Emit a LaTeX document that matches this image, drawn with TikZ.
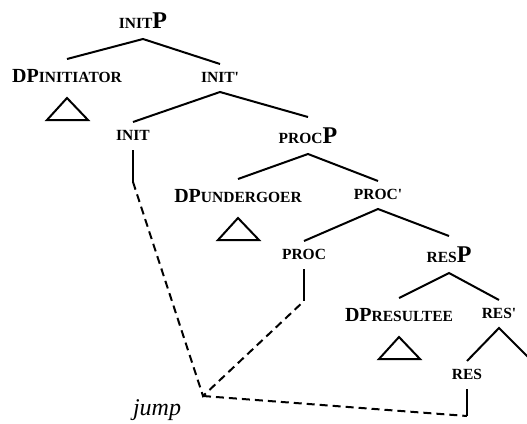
\documentclass[tikz,border=0pt]{standalone}
\usepackage{fontspec}
\setmainfont{Liberation Serif}

\newcommand\capsm[1]{{\fontsize{15.5}{15.5}\selectfont #1}}
\newcommand\phrP{{\fontsize{24}{24}\selectfont P}}
\newcommand\detP{{\fontsize{20}{20}\selectfont DP}}

\begin{document}
\begin{tikzpicture}[x=1pt,y=-1pt,line width=2pt,
    lab/.style={anchor=base,font=\bfseries,inner sep=0pt},
    head/.style={lab,text height=17pt,text depth=9pt},
    phrase/.style={lab,text height=25pt,text depth=10pt},
    spec/.style={lab,text height=22pt,text depth=15pt},
    trace/.style={dash pattern=on 8pt off 5pt}]
    \useasboundingbox (0,0) rectangle (527,423);

    \node[phrase] (initP)   at (143,28)  {\capsm{INIT}\phrP};
    \node[spec]   (dpI)     at (67,82)   {\detP\capsm{INITIATOR}};
    \node[head]   (initbar) at (220,82)  {\capsm{INIT\textquotesingle}};
    \node[head]   (init)    at (133,140) {\capsm{INIT}};
    \node[phrase] (procP)   at (308,143) {\capsm{PROC}\phrP};
    \node[spec]   (dpU)     at (238,202) {\detP\capsm{UNDERGOER}};
    \node[head]   (procbar) at (378,199) {\capsm{PROC\textquotesingle}};
    \node[head]   (proc)    at (304,259) {\capsm{PROC}};
    \node[phrase] (resP)    at (449,262) {\capsm{RES}\phrP};
    \node[spec]   (dpR)     at (399,321) {\detP\capsm{RESULTEE}};
    \node[head]   (resbar)  at (499,318) {\capsm{RES\textquotesingle}};
    \node[head]   (res)     at (467,379) {\capsm{RES}};
    \node[lab,font=\itshape\fontsize{24}{24}\selectfont] (jump) at (157,415) {jump};
    \coordinate (meet) at (203,396);
    \coordinate (resout) at (533,362);

    % tree
    \draw (dpI.north) -- (initP.south) -- (initbar.north);
    \draw (init.north) -- (initbar.south) -- (procP.north);
    \draw (dpU.north) -- (procP.south) -- (procbar.north);
    \draw (proc.north) -- (procbar.south) -- (resP.north);
    \draw (dpR.north) -- (resP.south) -- (resbar.north);
    \draw (res.north) -- (resbar.south) -- (resout);

    % triangles
    \foreach \dp in {dpI,dpU,dpR}
        \draw (\dp.south) -- ++(-20,22) -- ++(41,0) -- cycle;

    % heads to the verb
    \draw (init.south) -- ++(0,32) coordinate (initfoot);
    \draw (proc.south) -- ++(0,32) coordinate (procfoot);
    \draw (res.south) -- ++(0,27) coordinate (resfoot);
    \draw[trace] (initfoot) -- (meet) -- (procfoot);
    \draw[trace] (meet) -- (resfoot);
\end{tikzpicture}
\end{document}
